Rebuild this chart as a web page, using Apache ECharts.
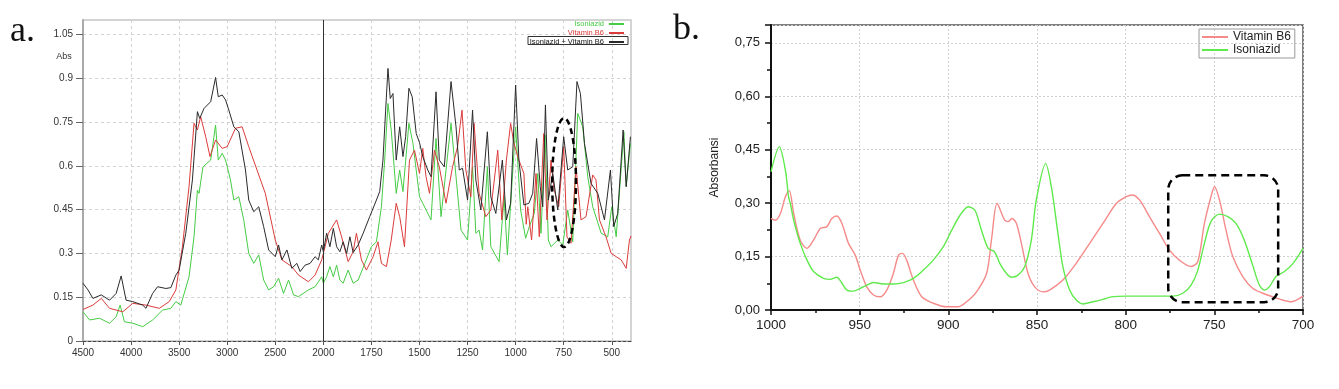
<!DOCTYPE html>
<html><head><meta charset="utf-8">
<script src="https://cdn.jsdelivr.net/npm/echarts/dist/echarts.min.js"></script>
<style>html,body{margin:0;padding:0;background:#fff}#c{width:1339px;height:389px}</style>
</head><body><div id="c"></div>
<script>
// ---------- Panel a: FTIR spectra, [wavenumber cm-1, absorbance] ----------
const isoA = [[4500,.100],[4431,.072],[4328,.078],[4224,.061],[4155,.083],[4114,.123],[4069,.066],[3983,.061],[3879,.049],[3776,.072],[3672,.106],[3586,.112],[3534,.135],[3483,.123],[3397,.220],[3345,.357],[3310,.517],[3293,.506],[3252,.597],[3172,.620],[3121,.740],[3093,.620],[3052,.643],[3017,.620],[2966,.552],[2931,.483],[2879,.494],[2828,.415],[2776,.300],[2724,.266],[2672,.295],[2621,.209],[2569,.175],[2517,.186],[2466,.215],[2414,.163],[2362,.209],[2310,.158],[2259,.152],[2155,.175],[2086,.186],[2017,.220],[2000,.198],[1983,.220],[1966,.255],[1948,.220],[1931,.260],[1914,.209],[1897,.198],[1871,.243],[1845,.198],[1819,.209],[1784,.266],[1750,.323],[1724,.340],[1698,.460],[1681,.620],[1664,.814],[1647,.723],[1621,.506],[1603,.586],[1586,.512],[1555,.746],[1534,.677],[1500,.494],[1483,.472],[1440,.415],[1414,.694],[1388,.426],[1336,.746],[1310,.563],[1284,.380],[1250,.346],[1224,.597],[1207,.369],[1190,.380],[1172,.312],[1147,.597],[1129,.323],[1086,.272],[1060,.494],[1043,.295],[1000,.734],[974,.449],[948,.352],[929,.392],[903,.437],[885,.574],[868,.369],[847,.706],[830,.346],[816,.323],[781,.346],[755,.329],[729,.449],[703,.340],[677,.780],[651,.734],[625,.563],[599,.460],[555,.369],[521,.357],[500,.460],[477,.357],[437,.717],[425,.529],[403,.677]];
const vitA = [[4500,.108],[4397,.123],[4310,.146],[4224,.112],[4086,.100],[3983,.129],[3845,.123],[3707,.112],[3603,.135],[3534,.175],[3466,.323],[3397,.529],[3345,.746],[3310,.723],[3276,.769],[3224,.700],[3179,.632],[3121,.689],[3052,.660],[3000,.666],[2914,.729],[2845,.734],[2776,.666],[2690,.586],[2604,.506],[2500,.346],[2431,.278],[2328,.255],[2259,.226],[2155,.203],[2086,.226],[2017,.278],[2000,.300],[1974,.369],[1931,.415],[1905,.357],[1871,.272],[1845,.306],[1828,.369],[1802,.278],[1776,.243],[1741,.289],[1716,.340],[1698,.266],[1672,.255],[1647,.346],[1621,.472],[1603,.426],[1578,.323],[1552,.620],[1526,.654],[1500,.574],[1483,.660],[1466,.563],[1448,.506],[1422,.654],[1397,.597],[1362,.472],[1328,.597],[1302,.666],[1279,.791],[1259,.586],[1233,.494],[1216,.746],[1190,.506],[1155,.426],[1129,.449],[1093,.654],[1072,.415],[1048,.620],[1026,.746],[1009,.677],[983,.620],[957,.574],[945,.400],[937,.460],[917,.346],[894,.574],[877,.357],[854,.711],[837,.415],[816,.620],[799,.517],[776,.460],[750,.666],[733,.357],[712,.335],[686,.597],[660,.415],[634,.426],[599,.569],[582,.552],[564,.415],[530,.357],[503,.300],[477,.289],[451,.278],[425,.249],[408,.346],[400,.360]];
const mixA = [[4500,.198],[4448,.175],[4397,.146],[4310,.158],[4224,.140],[4155,.163],[4103,.223],[4052,.140],[3983,.135],[3879,.123],[3845,.112],[3776,.163],[3724,.186],[3638,.180],[3586,.183],[3534,.226],[3500,.243],[3431,.369],[3362,.552],[3310,.786],[3286,.763],[3241,.797],[3172,.820],[3121,.903],[3093,.837],[3052,.843],[3017,.826],[2983,.791],[2931,.734],[2879,.717],[2810,.586],[2776,.483],[2724,.443],[2672,.460],[2621,.392],[2569,.312],[2500,.289],[2466,.329],[2431,.278],[2379,.312],[2328,.249],[2276,.266],[2241,.238],[2190,.260],[2138,.266],[2086,.289],[2052,.278],[2017,.329],[2000,.306],[1983,.369],[1966,.323],[1948,.386],[1931,.323],[1914,.306],[1897,.340],[1879,.300],[1862,.357],[1845,.303],[1819,.329],[1793,.369],[1759,.426],[1724,.483],[1707,.512],[1690,.620],[1676,.791],[1664,.934],[1652,.831],[1638,.848],[1621,.620],[1603,.734],[1586,.632],[1572,.700],[1555,.866],[1538,.837],[1517,.711],[1500,.680],[1483,.632],[1457,.586],[1440,.563],[1414,.854],[1397,.620],[1371,.597],[1336,.889],[1310,.734],[1293,.586],[1276,.592],[1250,.483],[1224,.791],[1207,.552],[1181,.449],[1147,.717],[1129,.494],[1103,.437],[1069,.620],[1048,.415],[1026,.472],[1000,.877],[983,.620],[957,.466],[931,.472],[911,.506],[891,.694],[872,.529],[859,.460],[845,.809],[830,.483],[807,.574],[781,.449],[750,.700],[729,.586],[703,.597],[681,.889],[663,.848],[642,.677],[608,.540],[573,.506],[538,.415],[507,.586],[490,.392],[469,.437],[441,.723],[425,.529],[403,.700]];
const aXTickLabels = ['4500','4000','3500','3000','2500','2000','1750','1500','1250','1000','750','500'];
const aYTickLabels = ['0','0.15','0.3','0.45','0.6','0.75','0.9','1.05'];

// ---------- Panel b: zoom 1000-700 cm-1 ----------
const vitB = [[1000,.257],[997.6,.252],[994.7,.271],[991.9,.318],[989.7,.335],[987.2,.271],[983.5,.196],[979.7,.173],[976.0,.196],[972.2,.229],[968.5,.234],[965.7,.257],[962.9,.264],[960.0,.243],[956.3,.187],[952.5,.154],[949.7,.112],[946.0,.065],[942.2,.042],[938.5,.037],[934.7,.056],[931.0,.103],[928.1,.154],[925.9,.159],[923.5,.140],[919.7,.084],[915.0,.037],[908.5,.019],[900.9,.009],[894.4,.009],[889.7,.023],[884.1,.051],[878.4,.103],[875.6,.200],[872.5,.299],[868.2,.252],[866.3,.248],[864.1,.257],[861.6,.243],[858.8,.187],[855.1,.103],[851.3,.065],[846.6,.051],[842.9,.056],[835.4,.084],[827.9,.131],[820.3,.187],[812.8,.243],[805.3,.299],[799.7,.318],[796.3,.323],[792.2,.309],[786.6,.262],[780.9,.215],[775.3,.168],[769.7,.140],[763.1,.122],[759.3,.136],[755.6,.243],[751.9,.318],[749.9,.346],[747.1,.309],[743.4,.224],[739.6,.150],[734.0,.094],[728.4,.061],[722.7,.047],[717.1,.037],[711.5,.028],[706.8,.023],[700,.039]];
const isoB = [[1000,.388],[995.3,.458],[991.9,.393],[990.1,.318],[989.1,.299],[987.2,.252],[983.5,.187],[979.7,.140],[976.0,.108],[970.4,.089],[966.6,.086],[962.9,.092],[960.0,.075],[957.2,.056],[953.5,.053],[949.7,.061],[946.0,.070],[942.2,.077],[936.6,.073],[931.0,.073],[925.3,.077],[919.7,.089],[914.1,.112],[908.5,.140],[902.8,.178],[898.1,.224],[893.4,.266],[888.8,.290],[885.0,.280],[881.3,.224],[877.5,.173],[874.0,.164],[871.0,.131],[867.3,.103],[864.5,.092],[860.7,.098],[856.9,.122],[853.2,.196],[850.4,.309],[845.1,.411],[841.9,.346],[838.2,.215],[835.4,.122],[831.6,.056],[827.9,.028],[824.1,.017],[818.5,.023],[812.8,.030],[808.1,.037],[799.7,.039],[790.3,.039],[780.9,.039],[773.4,.039],[767.8,.047],[763.1,.070],[759.3,.112],[755.6,.187],[751.9,.248],[747.1,.269],[742.4,.262],[737.8,.243],[733.1,.196],[728.4,.126],[724.6,.070],[721.8,.056],[719.0,.065],[715.2,.094],[710.5,.108],[705.6,.131],[700,.173]];
const bXTickLabels = {1000:'1000',950:'950',900:'900',850:'850',800:'800',750:'750',700:'700'};
const bYTickLabels = ['0,00','0,15','0,30','0,45','0,60','0,75'];

// annotation ranges (data units)
const ellipseA = {wn:748, abs:0.543, dWn:62, dAbs:0.221};
const boxB = {wn1:776, wn2:714, abs1:0.378, abs2:0.022};

// broken x-axis of panel a: 4500-2000 at half scale, 2000-400 at full scale
function toU(wn){ return wn >= 2000 ? (4500 - wn) / 2 : 1250 + (2000 - wn); }

const FONT = '"Liberation Sans", Arial, sans-serif';
const cG = '#45cc45', cR = '#dc3b3b', cK = '#2a2a2a';
const cRb = '#f58a8a', cGb = '#5fea4c';

const chart = echarts.init(document.getElementById('c'), null, {renderer:'canvas'});
const option = {
  animation:false,
  backgroundColor:'#fff',
  textStyle:{fontFamily:FONT},
  grid:[
    {left:83, top:20, width:548, height:321, show:true, borderColor:'#c6c6c6', borderWidth:1.5},
    {left:771, top:25, width:532, height:285, show:true, borderColor:'#555', borderWidth:1.5}
  ],
  xAxis:[
    {gridIndex:0, type:'value', min:0, max:2850, interval:250,
     axisLine:{show:true, onZero:false, lineStyle:{color:'#444', type:[3,2], width:1}},
     axisTick:{show:true, length:4, lineStyle:{color:'#555'}},
     axisLabel:{fontSize:10, color:'#333', margin:7, fontFamily:FONT, showMaxLabel:false,
       formatter:v => aXTickLabels[Math.round(v/250)] || ''},
     splitLine:{show:true, lineStyle:{color:'#d2d2d2', type:[3,3]}}},
    {gridIndex:1, type:'value', min:700, max:1000, interval:50, inverse:true,
     axisLine:{show:true, onZero:false, lineStyle:{color:'#111', width:2}},
     axisTick:{show:true, length:5, lineStyle:{color:'#111', width:1.5}},
     minorTick:{show:true, splitNumber:2, length:3, lineStyle:{color:'#111', width:1.5}},
     axisLabel:{fontSize:13.5, color:'#222', margin:8, fontFamily:FONT,
       formatter:v => bXTickLabels[Math.round(v)] || ''},
     splitLine:{show:true, lineStyle:{color:'#d0d0d0', type:[2,2]}}}
  ],
  yAxis:[
    {gridIndex:0, type:'value', min:0, max:1.1, interval:0.15,
     axisLine:{show:true, lineStyle:{color:'#aaa', width:2}},
     axisTick:{show:true, length:7, lineStyle:{color:'#666'}},
     axisLabel:{fontSize:10, color:'#333', margin:10, fontFamily:FONT, showMaxLabel:false,
       formatter:v => aYTickLabels[Math.round(v/0.15)] || ''},
     splitLine:{show:true, lineStyle:{color:'#d2d2d2', type:[3,3]}}},
    {gridIndex:1, type:'value', min:0, max:0.8, interval:0.15,
     name:'Absorbansi', nameLocation:'middle', nameGap:50,
     nameTextStyle:{fontSize:12, color:'#222', fontFamily:FONT},
     axisLine:{show:true, lineStyle:{color:'#111', width:2}},
     axisTick:{show:true, length:6, lineStyle:{color:'#111', width:1.5}},
     minorTick:{show:true, splitNumber:2, length:4, lineStyle:{color:'#111', width:1.5}},
     axisLabel:{fontSize:13, color:'#222', margin:11, fontFamily:FONT, showMaxLabel:false,
       formatter:v => bYTickLabels[Math.round(v/0.15)] || ''},
     splitLine:{show:true, lineStyle:{color:'#d0d0d0', type:[2,2]}}}
  ],
  legend:[
    {orient:'vertical', right:714, top:19.5, align:'right', itemWidth:15, itemHeight:9, itemGap:0,
     padding:0, selectedMode:false, textStyle:{fontSize:7.5, lineHeight:9, fontFamily:FONT},
     data:[
      {name:'Isoniazid', textStyle:{color:cG}, lineStyle:{color:cG}, itemStyle:{color:cG, opacity:0}},
      {name:'Vitamin B6', textStyle:{color:cR}, lineStyle:{color:cR}, itemStyle:{color:cR, opacity:0}},
      {name:'Isoniazid + Vitamin B6', textStyle:{color:'#111'}, lineStyle:{color:cK}, itemStyle:{color:cK, opacity:0}}
     ]},
    {orient:'vertical', left:1199, top:29, itemWidth:26, itemHeight:12, itemGap:1,
     padding:[2,4,2,2], borderColor:'#999', borderWidth:1, selectedMode:false,
     textStyle:{fontSize:12, color:'#222', fontFamily:FONT},
     data:[
      {name:'Vitamin B6', lineStyle:{color:cRb}, itemStyle:{color:cRb, opacity:0}, textStyle:{color:'#222'}},
      {name:'Isoniazid', lineStyle:{color:cGb}, itemStyle:{color:cGb, opacity:0}, textStyle:{color:'#222'}}
     ]}
  ],
  series:[
    {name:'Isoniazid', type:'line', xAxisIndex:0, yAxisIndex:0, symbol:'none',
     data:isoA.map(p => [toU(p[0]), p[1]]), lineStyle:{color:cG, width:1}, itemStyle:{color:cG}},
    {name:'Vitamin B6', type:'line', xAxisIndex:0, yAxisIndex:0, symbol:'none',
     data:vitA.map(p => [toU(p[0]), p[1]]), lineStyle:{color:cR, width:1}, itemStyle:{color:cR}},
    {name:'Isoniazid + Vitamin B6', type:'line', xAxisIndex:0, yAxisIndex:0, symbol:'none',
     data:mixA.map(p => [toU(p[0]), p[1]]), lineStyle:{color:cK, width:1}, itemStyle:{color:cK},
     markLine:{silent:true, symbol:'none', label:{show:false},
       lineStyle:{color:'#333', type:'solid', width:1}, data:[{xAxis:toU(2000)}]}},
    {name:'Vitamin B6', type:'line', xAxisIndex:1, yAxisIndex:1, symbol:'none', smooth:0.3,
     data:vitB, lineStyle:{color:cRb, width:1.4}, itemStyle:{color:cRb}},
    {name:'Isoniazid', type:'line', xAxisIndex:1, yAxisIndex:1, symbol:'none', smooth:0.3,
     data:isoB, lineStyle:{color:cGb, width:1.4}, itemStyle:{color:cGb}}
  ]
};
chart.setOption(option);

const c0 = chart.convertToPixel({gridIndex:0}, [toU(ellipseA.wn), ellipseA.abs]);
const cL = chart.convertToPixel({gridIndex:0}, [toU(ellipseA.wn + ellipseA.dWn), ellipseA.abs + ellipseA.dAbs]);
const b1 = chart.convertToPixel({gridIndex:1}, [boxB.wn1, boxB.abs1]);
const b2 = chart.convertToPixel({gridIndex:1}, [boxB.wn2, boxB.abs2]);

chart.setOption({
  graphic:[
    {type:'text', left:10, top:14, style:{text:'a.', font:'36px "Liberation Serif", "DejaVu Serif", serif', fill:'#111'}},
    {type:'text', left:673, top:12, style:{text:'b.', font:'36px "Liberation Serif", "DejaVu Serif", serif', fill:'#111'}},
    {type:'text', x:64, y:57, style:{text:'Abs', font:'9px "Liberation Sans", Arial, sans-serif', fill:'#333', align:'center', verticalAlign:'middle'}},
    {type:'rect', shape:{x:528, y:36.5, width:100, height:8}, style:{fill:'none', stroke:'#333', lineWidth:1}},
    {type:'ellipse', shape:{cx:c0[0], cy:c0[1], rx:Math.abs(c0[0]-cL[0]), ry:Math.abs(c0[1]-cL[1])},
     style:{fill:'none', stroke:'#000', lineWidth:2.5, lineDash:[6,4]}, z:100},
    {type:'rect', shape:{x:Math.min(b1[0],b2[0]), y:Math.min(b1[1],b2[1]), width:Math.abs(b2[0]-b1[0]), height:Math.abs(b2[1]-b1[1]), r:14},
     style:{fill:'none', stroke:'#000', lineWidth:2.5, lineDash:[8,5]}, z:100}
  ]
});
</script></body></html>
